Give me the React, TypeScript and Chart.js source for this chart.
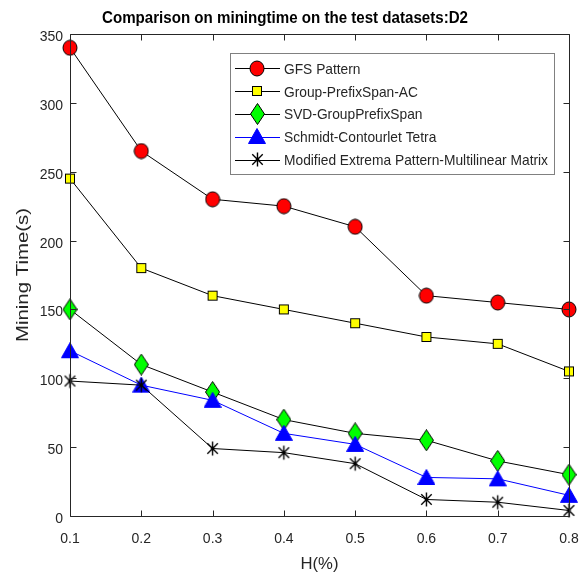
import React, { useEffect, useRef } from 'react';
import { Chart, registerables } from 'chart.js';

Chart.register(...registerables);

const xValues = [0.1, 0.2, 0.3, 0.4, 0.5, 0.6, 0.7, 0.8];
const gfsPattern = [340, 265, 230, 225, 210, 160, 155, 150];
const groupPrefixSpanAC = [245, 180, 160, 150, 140, 130, 125, 105];
const svdGroupPrefixSpan = [150, 110, 90, 70, 60, 55, 40, 30];
const schmidtContourlet = [120, 95, 84, 60, 52, 28, 27, 15];
const modifiedExtrema = [98, 95, 49, 46, 38, 12, 10, 4];
const seriesNames = [
  'GFS Pattern',
  'Group-PrefixSpan-AC',
  'SVD-GroupPrefixSpan',
  'Schmidt-Contourlet Tetra',
  'Modified Extrema Pattern-Multilinear Matrix',
];
const titleText = 'Comparison on miningtime on the test datasets:D2';
const xTitle = 'H(%)';
const yTitle = 'Mining Time(s)';
const yMin = 0;
const yMax = 350;
const yStep = 50;

const FONT = "'Liberation Sans', Arial, Helvetica, sans-serif";
const TEXT = '#262626';

type Kind = 'circle' | 'square' | 'diamond' | 'triangle' | 'star';

function makeMarker(kind: Kind): HTMLCanvasElement {
  const c = document.createElement('canvas');
  let w = 16, h = 16;
  if (kind === 'circle') { w = 16; h = 17; }
  if (kind === 'square') { w = 12; h = 12; }
  if (kind === 'diamond') { w = 15; h = 22; }
  if (kind === 'triangle') { w = 18; h = 17; }
  if (kind === 'star') { w = 17; h = 17; }
  c.width = w; c.height = h;
  const ctx = c.getContext('2d')!;
  ctx.lineWidth = 1;
  if (kind === 'circle') {
    ctx.beginPath();
    ctx.ellipse(w / 2, h / 2, 7, 7.5, 0, 0, Math.PI * 2);
    ctx.fillStyle = '#ff0000';
    ctx.fill();
    ctx.strokeStyle = '#000';
    ctx.stroke();
  } else if (kind === 'square') {
    ctx.fillStyle = '#ffff00';
    ctx.fillRect(1.5, 1.5, 9, 9);
    ctx.strokeStyle = '#000';
    ctx.strokeRect(1.5, 1.5, 9, 9);
  } else if (kind === 'diamond') {
    ctx.beginPath();
    ctx.moveTo(w / 2, 0.5);
    ctx.lineTo(w - 0.5, h / 2);
    ctx.lineTo(w / 2, h - 0.5);
    ctx.lineTo(0.5, h / 2);
    ctx.closePath();
    ctx.fillStyle = '#00ff00';
    ctx.fill();
    ctx.strokeStyle = '#000';
    ctx.stroke();
  } else if (kind === 'triangle') {
    ctx.beginPath();
    ctx.moveTo(w / 2, 0.5);
    ctx.lineTo(w - 0.5, h - 1.5);
    ctx.lineTo(0.5, h - 1.5);
    ctx.closePath();
    ctx.fillStyle = '#0000ff';
    ctx.fill();
    ctx.strokeStyle = '#0000ff';
    ctx.stroke();
  } else {
    ctx.strokeStyle = '#000';
    ctx.lineWidth = 1.4;
    ctx.beginPath();
    const cx = w / 2, cy = h / 2, r = 7;
    ctx.moveTo(cx, cy - r); ctx.lineTo(cx, cy + r);
    ctx.moveTo(cx - r * 0.75, cy - r * 0.75); ctx.lineTo(cx + r * 0.75, cy + r * 0.75);
    ctx.moveTo(cx + r * 0.75, cy - r * 0.75); ctx.lineTo(cx - r * 0.75, cy + r * 0.75);
    ctx.stroke();
    ctx.fillStyle = '#000';
    ctx.beginPath();
    ctx.arc(cx, cy, 1.8, 0, Math.PI * 2);
    ctx.fill();
  }
  return c;
}

function drawFitted(
  ctx: CanvasRenderingContext2D, text: string, x: number, y: number,
  font: string, targetWidth: number | null, align: CanvasTextAlign, rotate = 0, color = TEXT
) {
  ctx.save();
  ctx.font = font;
  ctx.fillStyle = color;
  ctx.textAlign = align;
  ctx.textBaseline = 'alphabetic';
  const m = ctx.measureText(text).width;
  const s = targetWidth ? targetWidth / m : 1;
  ctx.translate(x, y);
  if (rotate) ctx.rotate(rotate);
  ctx.scale(s, 1);
  ctx.fillText(text, 0, 0);
  ctx.restore();
}

export default function App() {
  const ref = useRef<HTMLCanvasElement | null>(null);

  useEffect(() => {
    document.body.style.margin = '0';
    const markers = {
      circle: makeMarker('circle'),
      square: makeMarker('square'),
      diamond: makeMarker('diamond'),
      triangle: makeMarker('triangle'),
      star: makeMarker('star'),
    };
    const markerList = [markers.circle, markers.square, markers.diamond, markers.triangle, markers.star];
    const lineColors = ['#000000', '#000000', '#000000', '#0000ff', '#000000'];
    const seriesData = [gfsPattern, groupPrefixSpanAC, svdGroupPrefixSpan, schmidtContourlet, modifiedExtrema];

    const framePlugin = {
      id: 'matlabFrame',
      afterDraw(chart: any) {
        const ctx: CanvasRenderingContext2D = chart.ctx;
        const { left, right, top, bottom } = chart.chartArea;
        const xs = chart.scales.x;
        const ys = chart.scales.y;
        const tl = 6;
        ctx.save();
        ctx.strokeStyle = TEXT;
        ctx.lineWidth = 1;
        const L = Math.round(left) + 0.5, R = Math.round(right) + 0.5;
        const T = Math.round(top) + 0.5, B = Math.round(bottom) + 0.5;
        ctx.beginPath();
        ctx.rect(L, T, R - L, B - T);
        for (const t of xs.ticks) {
          const px = Math.round(xs.getPixelForValue(t.value)) + 0.5;
          ctx.moveTo(px, B); ctx.lineTo(px, B - tl);
          ctx.moveTo(px, T); ctx.lineTo(px, T + tl);
        }
        for (const t of ys.ticks) {
          const py = Math.round(ys.getPixelForValue(t.value)) + 0.5;
          ctx.moveTo(L, py); ctx.lineTo(L + tl, py);
          ctx.moveTo(R, py); ctx.lineTo(R - tl, py);
        }
        ctx.stroke();
        ctx.restore();

        // tick labels
        for (const t of xs.ticks) {
          const px = xs.getPixelForValue(t.value);
          drawFitted(ctx, Number(t.value).toFixed(1), px, bottom + 27, `14px ${FONT}`, null, 'center');
        }
        for (const t of ys.ticks) {
          const py = ys.getPixelForValue(t.value);
          drawFitted(ctx, String(t.value), left - 7, py + 7, `14px ${FONT}`, null, 'right');
        }

        // titles
        drawFitted(ctx, titleText, 285, 23, `bold 16.5px ${FONT}`, 366, 'center', 0, '#000');
        drawFitted(ctx, xTitle, (left + right) / 2, 569, `16px ${FONT}`, 38, 'center');
        drawFitted(ctx, yTitle, 28, (top + bottom) / 2, `16px ${FONT}`, 134, 'center', -Math.PI / 2);

        // legend
        ctx.save();
        ctx.fillStyle = '#ffffff';
        ctx.fillRect(230.5, 53.5, 324, 121);
        ctx.strokeStyle = '#808080';
        ctx.lineWidth = 1;
        ctx.strokeRect(230.5, 53.5, 324, 121);
        ctx.restore();
        ctx.save();
        ctx.font = `15px ${FONT}`;
        const longest = ctx.measureText(seriesNames[4]).width;
        ctx.restore();
        const scale = 264 / longest;
        for (let i = 0; i < seriesNames.length; i++) {
          const cy = 68.3 + i * 22.8;
          ctx.save();
          ctx.strokeStyle = lineColors[i];
          ctx.lineWidth = 1;
          ctx.beginPath();
          ctx.moveTo(235, Math.round(cy) + 0.5);
          ctx.lineTo(280, Math.round(cy) + 0.5);
          ctx.stroke();
          const img = markerList[i];
          ctx.drawImage(img, Math.round(257 - img.width / 2), Math.round(cy - img.height / 2));
          ctx.restore();
          ctx.save();
          ctx.font = `15px ${FONT}`;
          const w = ctx.measureText(seriesNames[i]).width;
          ctx.restore();
          drawFitted(ctx, seriesNames[i], 284, cy + 5.5, `15px ${FONT}`, w * scale, 'left');
        }
      },
    };

    const chart = new Chart(ref.current!, {
      type: 'line',
      data: {
        labels: xValues,
        datasets: seriesNames.map((name, i) => ({
          label: name,
          data: xValues.map((x, j) => ({ x, y: seriesData[i][j] })),
          borderColor: lineColors[i],
          backgroundColor: lineColors[i],
          borderWidth: 1,
          tension: 0,
          pointStyle: markerList[i],
          pointRadius: 8,
          pointHoverRadius: 8,
          clip: false as any,
          order: 5 - i,
        })),
      },
      options: {
        responsive: false,
        animation: false,
        events: [],
        layout: { padding: { left: 70, right: 19, top: 34, bottom: 62 } },
        plugins: {
          legend: { display: false },
          title: { display: false },
          tooltip: { enabled: false },
        },
        scales: {
          x: {
            type: 'linear',
            display: false,
            min: 0.1,
            max: 0.8,
            ticks: { stepSize: 0.1 },
          },
          y: {
            type: 'linear',
            display: false,
            min: yMin,
            max: yMax,
            ticks: { stepSize: yStep },
          },
        },
      },
      plugins: [framePlugin],
    });
    return () => chart.destroy();
  }, []);

  return (
    <div style={{ position: 'absolute', left: 0, top: 0, width: 588, height: 578, background: '#fff' }}>
      <canvas ref={ref} width={588} height={578} style={{ display: 'block' }} />
    </div>
  );
}
